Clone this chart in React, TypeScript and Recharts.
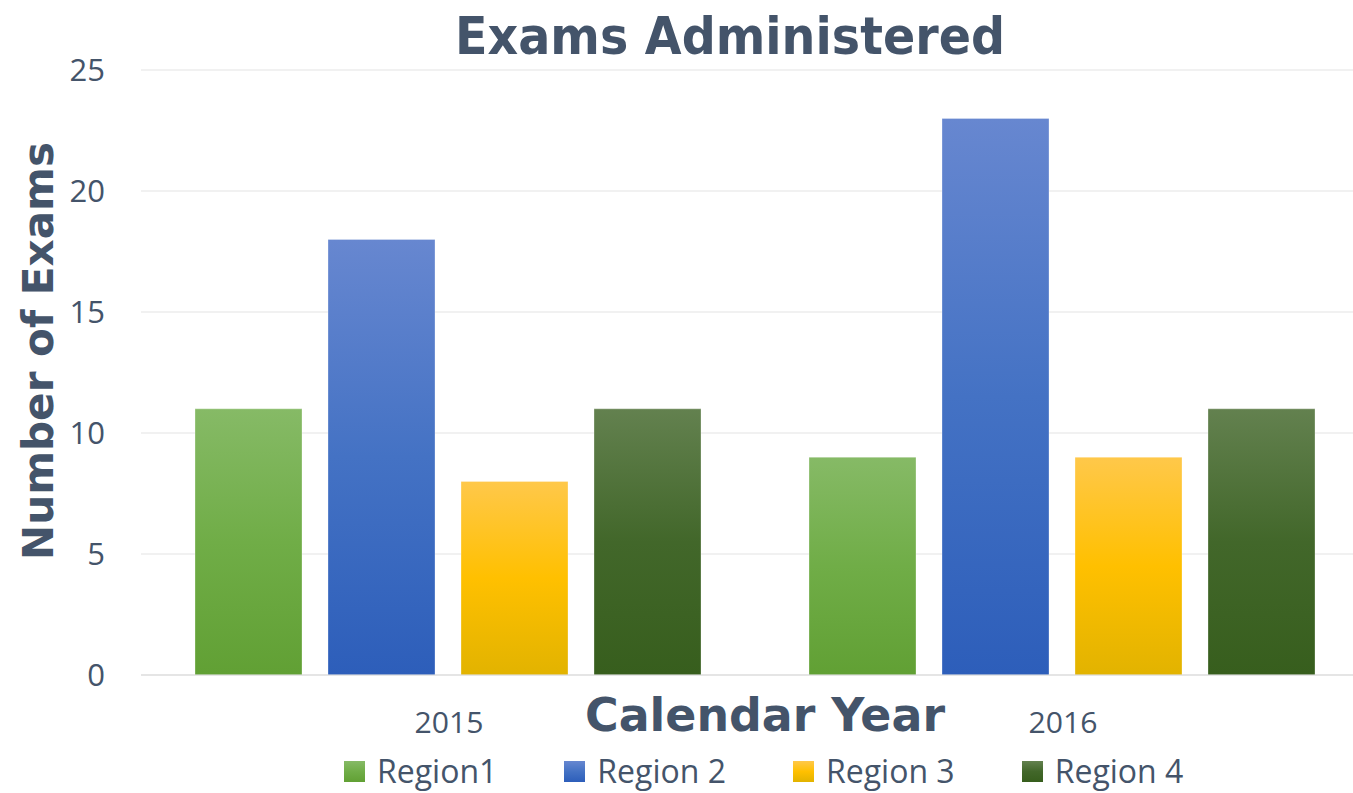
import React from 'react';
import { BarChart, Bar, XAxis, YAxis, CartesianGrid, Legend, Label } from 'recharts';

const categories = ['2015', '2016'];
const region1 = [11, 9];
const region2 = [18, 23];
const region3 = [8, 9];
const region4 = [11, 11];
const yTicks = [0, 5, 10, 15, 20, 25];
const seriesNames = ['Region1', 'Region 2', 'Region 3', 'Region 4'];
const seriesKeys = ['r1', 'r2', 'r3', 'r4'];

const gradients = [
  ['#86BA66', '#70AD47', '#61A034'],
  ['#6787D0', '#4472C4', '#2D5EBA'],
  ['#FFC84A', '#FFC000', '#E2B300'],
  ['#63814F', '#42672A', '#375E1D'],
];

const data = categories.map((c, i) => ({
  year: c,
  r1: region1[i],
  r2: region2[i],
  r3: region3[i],
  r4: region4[i],
}));

const TEXT = '#44546A';

const YTick = (props: any) => {
  const { y, payload } = props;
  return (
    <text x={105} y={y} dy="0.36em" textAnchor="end" fill={TEXT} fontFamily="Open Sans" fontSize={31}>
      {payload.value}
    </text>
  );
};

const XTick = (props: any) => {
  const { x, y, payload } = props;
  return (
    <text
      x={x + 1}
      y={y + 50}
      textAnchor="middle"
      fill={TEXT}
      fontFamily="Open Sans"
      fontSize={29}
      textLength={69}
      lengthAdjust="spacingAndGlyphs"
    >
      {payload.value}
    </text>
  );
};

const LegendContent = () => (
  <div style={{ width: 1353, height: 44, display: 'flex', alignItems: 'center', paddingLeft: 344, gap: 67, boxSizing: 'border-box' }}>
    {seriesNames.map((n, i) => (
      <div key={n} style={{ display: 'flex', alignItems: 'center', height: 44 }}>
        <div
          style={{
            width: 21,
            height: 21,
            background: `linear-gradient(to bottom, ${gradients[i][0]}, ${gradients[i][1]} 50%, ${gradients[i][2]})`,
            marginRight: 12,
          }}
        />
        <span style={{ fontFamily: 'Open Sans', fontSize: 32, color: TEXT, lineHeight: '44px', whiteSpace: 'nowrap' }}>{n}</span>
      </div>
    ))}
  </div>
);

export default function App() {
  return (
    <div style={{ position: 'fixed', left: 0, top: 0, width: 1353, height: 793, overflow: 'hidden', background: '#fff' }}>
      <BarChart
        width={1369}
        height={793}
        data={data}
        margin={{ top: 70, right: 0, bottom: 0, left: 0 }}
        barCategoryGap={54}
        barGap={26}
      >
        <defs>
          {gradients.map((g, i) => (
            <linearGradient key={i} id={`grad${i}`} x1="0" y1="0" x2="0" y2="1">
              <stop offset="0%" stopColor={g[0]} />
              <stop offset="50%" stopColor={g[1]} />
              <stop offset="100%" stopColor={g[2]} />
            </linearGradient>
          ))}
        </defs>
        <text
          x={730}
          y={54}
          textAnchor="middle"
          fill={TEXT}
          fontFamily="DejaVu Sans"
          fontWeight="bold"
          fontSize={52}
          textLength={550}
          lengthAdjust="spacingAndGlyphs"
        >
          Exams Administered
        </text>
        <CartesianGrid vertical={false} stroke="#E3E3E3" strokeWidth={1.2} />
        <XAxis
          dataKey="year"
          axisLine={{ stroke: '#DADADA', strokeWidth: 1.2 }}
          tickLine={false}
          height={74}
          tick={<XTick />}
        >
          <Label
            content={(p: any) => {
              const vb = p.viewBox;
              return (
                <text
                  x={765}
                  y={vb.y + 56}
                  textAnchor="middle"
                  fill={TEXT}
                  fontFamily="DejaVu Sans"
                  fontWeight="bold"
                  fontSize={47}
                  textLength={360}
                  lengthAdjust="spacingAndGlyphs"
                >
                  Calendar Year
                </text>
              );
            }}
          />
        </XAxis>
        <YAxis
          domain={[0, 25]}
          ticks={yTicks}
          width={141}
          axisLine={false}
          tickLine={false}
          tick={<YTick />}
        >
          <Label
            content={() => (
              <text
                x={0}
                y={0}
                transform={`translate(53, 351) rotate(-90)`}
                textAnchor="middle"
                fill={TEXT}
                fontFamily="DejaVu Sans"
                fontWeight="bold"
                fontSize={43}
                textLength={418}
                lengthAdjust="spacingAndGlyphs"
              >
                Number of Exams
              </text>
            )}
          />
        </YAxis>
        <Legend verticalAlign="bottom" align="left" height={44} content={<LegendContent />} />
        {seriesKeys.map((k, i) => (
          <Bar
            key={k}
            dataKey={k}
            name={seriesNames[i]}
            fill={`url(#grad${i})`}
            stroke="#ffffff"
            strokeOpacity={0.3}
            strokeWidth={1}
            isAnimationActive={false}
          />
        ))}
      </BarChart>
    </div>
  );
}
